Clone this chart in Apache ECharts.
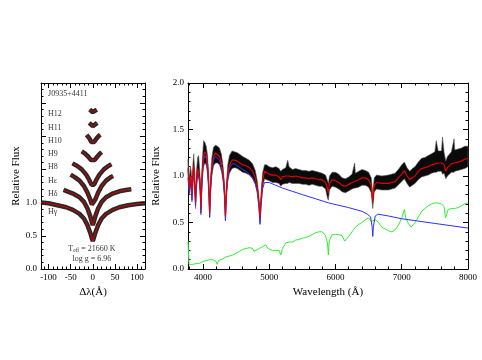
<!DOCTYPE html>
<html>
<head>
<meta charset="utf-8">
<script src="https://cdn.jsdelivr.net/npm/echarts@6/dist/echarts.min.js"></script>
<style>
  html, body { margin: 0; padding: 0; background: #fff; }
  #main { width: 482px; height: 360px; }
</style>
</head>
<body>
<div id="main"></div>
<script>
// ---- left panel: Balmer line profiles (delta lambda, normalised flux + offset)
const hGamma = [[-117,1.00],[-100,0.99],[-80,0.96],[-60,0.93],[-45,0.89],[-30,0.83],[-20,0.76],[-12,0.66],[-6,0.55],[-2,0.46],[0,0.42],[2,0.46],[6,0.55],[12,0.66],[20,0.76],[30,0.83],[45,0.89],[60,0.93],[80,0.96],[100,0.98],[118,0.99]];
const hDelta = [[-66,1.19],[-55,1.16],[-43,1.13],[-30,1.08],[-20,1.01],[-12,0.91],[-6,0.80],[-2,0.70],[0,0.66],[2,0.70],[6,0.80],[12,0.91],[20,1.01],[30,1.08],[43,1.13],[60,1.17],[75,1.19],[87,1.20]];
const hEps = [[-50,1.42],[-40,1.38],[-30,1.33],[-20,1.25],[-12,1.15],[-6,1.05],[-2,0.97],[0,0.94],[2,0.97],[6,1.05],[12,1.15],[20,1.25],[30,1.33],[40,1.38],[46,1.40]];
const h8 = [[-46,1.59],[-35,1.55],[-25,1.50],[-15,1.42],[-8,1.34],[-3,1.27],[0,1.24],[3,1.27],[8,1.34],[15,1.42],[25,1.50],[35,1.55],[42,1.58]];
const h9 = [[-25,1.77],[-18,1.74],[-10,1.69],[-4,1.64],[0,1.62],[4,1.64],[10,1.69],[15,1.73],[20,1.76]];
const h10 = [[-14,2.02],[-8,1.97],[-3,1.91],[0,1.89],[3,1.91],[8,1.96],[13,2.00],[17,2.02]];
const h11 = [[-8,2.20],[-4,2.17],[0,2.15],[4,2.17],[10,2.20]];
const h12 = [[-7,2.40],[-3,2.37],[0,2.36],[3,2.38],[9,2.40]];
const lineNames = ['Hγ','Hδ','Hε','H8','H9','H10','H11','H12'];
const lineLabelY = [0.86,1.13,1.33,1.53,1.73,1.93,2.13,2.33];

// ---- right panel: spectrum
const wave = [3775,3786,3798,3812,3822,3835,3850,3862,3876,3889,3902,3920,3935,3950,3962,3970,3978,3992,4010,4030,4050,4070,4088,4102,4116,4135,4160,4190,4220,4250,4280,4305,4325,4340,4355,4375,4400,4440,4480,4520,4560,4600,4650,4700,4750,4790,4820,4845,4861,4877,4900,4930,4960,5000,5050,5100,5150,5175,5200,5250,5280,5300,5350,5400,5450,5500,5550,5600,5650,5700,5750,5800,5850,5880,5893,5910,5950,6000,6050,6100,6150,6200,6250,6290,6300,6350,6400,6450,6500,6540,6563,6585,6620,6700,6800,6900,6960,7000,7040,7080,7120,7160,7200,7250,7300,7350,7400,7450,7500,7520,7550,7600,7615,7640,7665,7690,7750,7790,7800,7850,7900,7950,8000];
const fitFlux = [1.08,0.98,0.88,1.00,0.96,0.80,1.02,1.12,0.92,0.72,0.94,1.08,1.10,0.98,0.84,0.64,0.84,1.06,1.22,1.26,1.23,1.12,0.90,0.60,0.90,1.10,1.21,1.25,1.24,1.21,1.14,1.02,0.84,0.57,0.84,1.02,1.12,1.17,1.17,1.16,1.14,1.12,1.11,1.09,1.05,0.98,0.88,0.72,0.55,0.74,0.95,1.05,1.04,1.02,1.01,1.01,0.99,0.96,0.99,1.00,1.00,1.00,0.99,1.00,0.99,0.98,0.98,0.97,0.98,0.97,0.96,0.96,0.93,0.86,0.82,0.92,0.96,0.95,0.93,0.90,0.89,0.91,0.93,0.94,0.94,0.96,0.98,0.98,0.96,0.90,0.72,0.90,0.93,0.92,0.92,0.94,0.99,1.02,1.06,1.00,0.96,0.98,1.00,1.05,1.08,1.09,1.10,1.12,1.13,1.13,1.14,1.14,1.14,1.12,1.05,1.09,1.13,1.14,1.14,1.15,1.16,1.18,1.19];
const obsLo = [0.98,0.88,0.80,0.90,0.86,0.72,0.92,1.02,0.84,0.65,0.86,0.98,1.00,0.90,0.76,0.58,0.76,0.96,1.10,1.14,1.12,1.02,0.82,0.55,0.82,1.00,1.11,1.14,1.14,1.12,1.05,0.94,0.77,0.52,0.77,0.94,1.03,1.08,1.09,1.08,1.06,1.04,1.03,1.01,0.97,0.91,0.82,0.66,0.50,0.68,0.88,0.97,0.96,0.95,0.93,0.93,0.92,0.89,0.91,0.92,0.92,0.93,0.92,0.92,0.92,0.91,0.91,0.90,0.91,0.90,0.89,0.89,0.86,0.76,0.74,0.85,0.89,0.88,0.86,0.83,0.82,0.84,0.86,0.87,0.87,0.88,0.90,0.90,0.88,0.82,0.65,0.83,0.86,0.85,0.85,0.87,0.91,0.94,0.97,0.92,0.88,0.90,0.92,0.96,0.99,1.00,1.01,1.03,1.04,1.04,1.05,1.05,1.02,1.03,0.97,1.00,1.04,1.04,1.05,1.06,1.07,1.08,1.10];
const obsHi = [1.18,1.08,0.98,1.10,1.06,0.90,1.14,1.24,1.02,0.82,1.04,1.20,1.22,1.08,0.94,0.72,0.94,1.18,1.38,1.36,1.32,1.22,1.00,0.68,1.00,1.20,1.31,1.33,1.32,1.30,1.23,1.10,0.92,0.64,0.92,1.12,1.22,1.27,1.26,1.25,1.23,1.21,1.19,1.17,1.13,1.06,0.95,0.78,0.60,0.80,1.03,1.12,1.12,1.10,1.09,1.10,1.08,1.05,1.07,1.09,1.17,1.10,1.07,1.08,1.07,1.06,1.06,1.05,1.06,1.05,1.04,1.03,1.01,0.95,0.92,1.00,1.04,1.04,1.02,0.98,0.97,0.99,1.02,1.14,1.03,1.05,1.07,1.06,1.04,0.98,0.80,0.98,1.01,1.00,1.01,1.03,1.08,1.12,1.15,1.09,1.05,1.08,1.10,1.15,1.19,1.20,1.22,1.24,1.26,1.38,1.27,1.27,1.42,1.25,1.16,1.21,1.26,1.40,1.28,1.29,1.30,1.32,1.32];
const wdModel = [[3775,0.98],[3786,0.90],[3798,0.82],[3812,0.96],[3822,0.92],[3835,0.74],[3850,0.98],[3862,1.08],[3876,0.88],[3889,0.68],[3902,0.90],[3920,1.04],[3935,1.06],[3950,0.94],[3962,0.78],[3970,0.60],[3978,0.78],[3992,1.02],[4010,1.17],[4030,1.22],[4050,1.19],[4070,1.08],[4088,0.86],[4102,0.56],[4116,0.86],[4135,1.06],[4160,1.17],[4190,1.21],[4220,1.20],[4250,1.17],[4280,1.10],[4305,0.98],[4325,0.80],[4340,0.52],[4355,0.80],[4375,0.98],[4400,1.08],[4440,1.13],[4480,1.13],[4520,1.11],[4560,1.09],[4600,1.07],[4650,1.05],[4700,1.02],[4750,0.98],[4790,0.92],[4820,0.83],[4845,0.68],[4861,0.48],[4877,0.68],[4900,0.86],[4930,0.93],[4960,0.94],[5000,0.93],[5200,0.87],[5500,0.80],[5900,0.71],[6200,0.66],[6400,0.62],[6480,0.59],[6530,0.56],[6553,0.46],[6563,0.35],[6573,0.46],[6600,0.57],[6640,0.59],[6800,0.57],[7000,0.54],[7500,0.49],[8000,0.44]];
const dmModel = [[3775,0.30],[3782,0.18],[3790,0.05],[3800,0.04],[3850,0.05],[3900,0.06],[3950,0.06],[4000,0.08],[4050,0.09],[4100,0.10],[4150,0.10],[4200,0.08],[4215,0.05],[4235,0.09],[4300,0.11],[4350,0.13],[4400,0.14],[4450,0.15],[4500,0.17],[4550,0.19],[4600,0.21],[4650,0.22],[4700,0.23],[4750,0.22],[4770,0.19],[4800,0.20],[4850,0.22],[4900,0.24],[4950,0.26],[4980,0.22],[5050,0.20],[5100,0.20],[5150,0.20],[5175,0.15],[5200,0.22],[5250,0.28],[5300,0.29],[5350,0.29],[5400,0.31],[5450,0.32],[5500,0.33],[5550,0.34],[5600,0.35],[5650,0.37],[5700,0.39],[5750,0.40],[5800,0.40],[5850,0.36],[5880,0.28],[5893,0.15],[5905,0.30],[5950,0.37],[6000,0.37],[6050,0.37],[6100,0.36],[6140,0.30],[6160,0.28],[6200,0.35],[6250,0.40],[6300,0.45],[6350,0.48],[6400,0.50],[6450,0.53],[6500,0.55],[6540,0.51],[6600,0.53],[6650,0.50],[6700,0.45],[6750,0.43],[6800,0.41],[6850,0.40],[6900,0.42],[6950,0.47],[7000,0.55],[7040,0.64],[7060,0.55],[7100,0.49],[7140,0.45],[7180,0.48],[7220,0.52],[7260,0.57],[7300,0.62],[7350,0.65],[7400,0.68],[7450,0.70],[7500,0.71],[7550,0.71],[7600,0.70],[7640,0.67],[7660,0.55],[7675,0.58],[7700,0.64],[7750,0.65],[7800,0.65],[7850,0.66],[7900,0.68],[7950,0.70],[8000,0.71]];

// ---- ticks
const leftXLabels = [-100,-50,0,50,100];
const leftXMinor = [-110,-90,-80,-70,-60,-40,-30,-20,-10,10,20,30,40,60,70,80,90,110];
const leftYLabels = [0,0.5,1];
const leftYMajor = [0,0.5,1,1.5,2,2.5];
const leftYMinor = [0.1,0.2,0.3,0.4,0.6,0.7,0.8,0.9,1.1,1.2,1.3,1.4,1.6,1.7,1.8,1.9,2.1,2.2,2.3,2.4,2.6,2.7];
const rightXLabels = [4000,5000,6000,7000,8000];
const rightXMinor = [3800,4200,4400,4600,4800,5200,5400,5600,5800,6200,6400,6600,6800,7200,7400,7600,7800];
const rightYLabels = [0,0.5,1,1.5,2];
const rightYMinor = [0.1,0.2,0.3,0.4,0.6,0.7,0.8,0.9,1.1,1.2,1.3,1.4,1.6,1.7,1.8,1.9];

const FONT = 'Liberation Serif';
const black = '#000';

function axisSet(kind, grid, min, max, major, minor, labels, fmt, name, nameGap) {
  const pos = kind === 'x' ? ['bottom', 'top'] : ['left', 'right'];
  const base = { gridIndex: grid, type: 'value', min: min, max: max,
    splitLine: { show: false }, axisPointer: { show: false } };
  const res = [];
  pos.forEach(function (p, k) {
    res.push(Object.assign({}, base, {
      position: p,
      axisLine: { show: true, onZero: false, lineStyle: { color: black, width: 1 } },
      axisTick: { inside: true, length: 5, customValues: major, lineStyle: { color: black } },
      axisLabel: k === 0 ? { customValues: labels, color: black, fontSize: 9, fontFamily: FONT, margin: 4, formatter: fmt } : { show: false },
      name: k === 0 ? name : '',
      nameLocation: 'middle',
      nameGap: nameGap,
      nameRotate: kind === 'y' ? 90 : 0,
      nameTextStyle: { color: black, fontSize: 11, fontFamily: FONT }
    }));
    res.push(Object.assign({}, base, {
      position: p,
      axisLine: { show: false, onZero: false },
      axisTick: { inside: true, length: 2.5, customValues: minor, lineStyle: { color: black } },
      axisLabel: { show: false }
    }));
  });
  return res;
}

const fmtInt = function (v) { return String(Math.round(v)); };
const fmt1 = function (v) { return v.toFixed(1); };

const xAxes = [].concat(
  axisSet('x', 0, -117, 118, leftXLabels, leftXMinor, leftXLabels, fmtInt, 'Δλ(Å)', 12),
  axisSet('x', 1, 3775, 8000, rightXLabels, rightXMinor, rightXLabels, fmtInt, 'Wavelength (Å)', 14)
);
const yAxes = [].concat(
  axisSet('y', 0, 0, 2.8, leftYMajor, leftYMinor, leftYLabels, fmt1, 'Relative Flux', 19),
  axisSet('y', 1, 0, 2, rightYLabels, rightYMinor, rightYLabels, fmt1, 'Relative Flux', 18)
);

const series = [];
const profiles = [hGamma, hDelta, hEps, h8, h9, h10, h11, h12];
// observed (noisy) spectra shown as a thick black trace under each fit
profiles.forEach(function (p) {
  series.push({ type: 'line', xAxisIndex: 0, yAxisIndex: 0, data: p, symbol: 'none', silent: true,
    lineStyle: { color: '#111', width: 4.5, opacity: 0.9 }, z: 2 });
});
profiles.forEach(function (p) {
  series.push({ type: 'line', xAxisIndex: 0, yAxisIndex: 0, data: p, symbol: 'none', silent: true,
    lineStyle: { color: '#e00000', width: 1 }, z: 3 });
});
series.push({
  type: 'scatter', xAxisIndex: 0, yAxisIndex: 0, symbolSize: 0, silent: true, z: 4,
  data: lineNames.map(function (n, i) { return { value: [-101, lineLabelY[i]], name: n }; })
    .concat([{ value: [-101, 2.64], name: 'J0935+4411' }]),
  label: { show: true, position: 'right', distance: 0, formatter: '{b}', color: black, fontSize: 8, fontFamily: FONT }
});
series.push({
  type: 'scatter', xAxisIndex: 0, yAxisIndex: 0, symbolSize: 0, silent: true, z: 4,
  data: [{ value: [-2, 0.31], name: 'teff' }, { value: [-2, 0.15], name: 'logg' }],
  label: {
    show: true, position: 'inside', color: black, fontSize: 8, fontFamily: FONT,
    formatter: function (p) { return p.name === 'teff' ? '{t|T}{s|eff}{t| = 21660 K}' : '{t|log g = 6.96}'; },
    rich: {
      t: { fontSize: 8, fontFamily: FONT, color: black, verticalAlign: 'middle', lineHeight: 10 },
      s: { fontSize: 5.5, fontFamily: FONT, color: black, verticalAlign: 'bottom', lineHeight: 10, padding: [4, 0, 0, 0] }
    }
  }
});

// right panel: observed spectrum as a filled band between lower and upper envelope
series.push({
  type: 'custom', xAxisIndex: 4, yAxisIndex: 4, silent: true, z: 2,
  data: wave.map(function (w, i) { return [w, obsLo[i], obsHi[i]]; }),
  encode: { x: 0, y: [1, 2] },
  renderItem: function (params, api) {
    if (params.dataIndex !== 0) return null;
    const top = wave.map(function (w, i) { return api.coord([w, obsHi[i]]); });
    const bot = wave.map(function (w, i) { return api.coord([w, obsLo[i]]); }).reverse();
    return {
      type: 'polygon',
      shape: { points: top.concat(bot) },
      style: { fill: '#0a0a0a', stroke: '#555', lineWidth: 0.6 }
    };
  }
});
series.push({ type: 'line', xAxisIndex: 4, yAxisIndex: 4, symbol: 'none', silent: true, data: dmModel,
  lineStyle: { color: '#33ee33', width: 1 }, z: 3 });
series.push({ type: 'line', xAxisIndex: 4, yAxisIndex: 4, symbol: 'none', silent: true, data: wdModel,
  lineStyle: { color: '#3030ff', width: 1 }, z: 3 });
series.push({ type: 'line', xAxisIndex: 4, yAxisIndex: 4, symbol: 'none', silent: true,
  data: wave.map(function (w, i) { return [w, fitFlux[i]]; }),
  lineStyle: { color: '#e00000', width: 1.2 }, z: 4 });

const chart = echarts.init(document.getElementById('main'), null, { renderer: 'canvas' });
chart.setOption({
  animation: false,
  backgroundColor: '#fff',
  grid: [
    { left: 41, top: 83, width: 104, height: 186 },
    { left: 188, top: 83, width: 280, height: 186 }
  ],
  xAxis: xAxes,
  yAxis: yAxes,
  series: series
});
</script>
</body>
</html>
